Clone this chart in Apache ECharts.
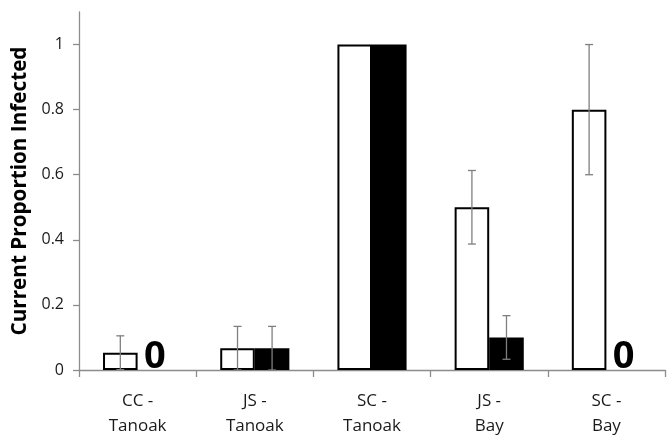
<!DOCTYPE html>
<html>
<head>
<meta charset="utf-8">
<script src="https://cdn.jsdelivr.net/npm/echarts@6/dist/echarts.min.js"></script>
<style>
  html, body { margin: 0; padding: 0; background: #fff; }
  #chart { width: 670px; height: 439px; }
</style>
</head>
<body>
<div id="chart"></div>
<script>
// Sites / hosts along the x axis
const categories = ['CC -\nTanoak', 'JS -\nTanoak', 'SC -\nTanoak', 'JS -\nBay', 'SC -\nBay'];
// Open (white) bars and their error
const openValues = [0.053, 0.067, 1, 0.5, 0.8];
const openErrors = [0.052, 0.067, 0, 0.113, 0.2];
// Filled (black) bars and their error
const filledValues = [0, 0.067, 1, 0.1, 0];
const filledErrors = [0, 0.067, 0, 0.067, 0];
// Y axis tick values
const yTicks = [0, 0.2, 0.4, 0.6, 0.8, 1];

const FONT = 'Open Sans';
const CATEGORY_GAP = 0.41;

function errorBarSeries(values, errors, side) {
  return {
    type: 'custom',
    z: 10,
    silent: true,
    data: values.map((v, i) => [i, v, errors[i]]),
    renderItem: function (params, api) {
      const idx = api.value(0);
      const val = api.value(1);
      const err = api.value(2);
      if (!err) return null;
      const band = api.size([1, 0])[0];
      const bw = band * (1 - CATEGORY_GAP) / 2;
      const center = api.coord([idx, val]);
      const x = center[0] + side * bw / 2;
      const yHi = api.coord([idx, val + err])[1];
      const yLo = api.coord([idx, Math.max(val - err, 0)])[1];
      const cap = 4;
      const style = { stroke: '#7f7f7f', lineWidth: 1.3 };
      return {
        type: 'group',
        children: [
          { type: 'line', shape: { x1: x, y1: yHi, x2: x, y2: yLo }, style: style },
          { type: 'line', shape: { x1: x - cap, y1: yHi, x2: x + cap, y2: yHi }, style: style },
          { type: 'line', shape: { x1: x - cap, y1: yLo, x2: x + cap, y2: yLo }, style: style }
        ]
      };
    }
  };
}

const chart = echarts.init(document.getElementById('chart'));
chart.setOption({
  animation: false,
  grid: { left: 79, right: 5, top: 12, bottom: 68 },
  xAxis: {
    type: 'category',
    data: categories,
    axisLine: { lineStyle: { color: '#8c8c8c', width: 1.3 } },
    axisTick: { show: true, length: 7, lineStyle: { color: '#8c8c8c', width: 1.3 } },
    axisLabel: {
      color: '#1a1a1a',
      fontFamily: FONT,
      fontSize: 17,
      lineHeight: 25,
      margin: 19
    }
  },
  yAxis: {
    type: 'value',
    min: 0,
    max: 1.1,
    interval: 0.2,
    name: 'Current Proportion Infected',
    nameLocation: 'middle',
    nameGap: 48,
    nameTextStyle: { fontFamily: FONT, fontSize: 20.7, fontWeight: 'bold', color: '#000' },
    axisLine: { show: true, lineStyle: { color: '#8c8c8c', width: 1.3 } },
    axisTick: { show: true, length: 6, customValues: yTicks, lineStyle: { color: '#8c8c8c', width: 1.3 } },
    axisLabel: {
      customValues: yTicks,
      color: '#1a1a1a',
      fontFamily: FONT,
      fontSize: 16,
      margin: 15,
      formatter: v => String(Math.round(v * 10) / 10)
    },
    splitLine: { show: false }
  },
  series: [
    {
      name: 'Series 1',
      type: 'bar',
      data: openValues,
      barGap: '0%',
      barCategoryGap: (CATEGORY_GAP * 100) + '%',
      itemStyle: { color: '#fff', borderColor: '#000', borderWidth: 2 }
    },
    {
      name: 'Series 2',
      type: 'bar',
      data: filledValues,
      itemStyle: { color: '#000', borderWidth: 0 },
      label: {
        show: true,
        position: 'top',
        distance: -6,
        fontFamily: FONT,
        fontSize: 38,
        fontWeight: 'bold',
        color: '#000',
        formatter: p => (p.value === 0 ? '0' : '')
      }
    },
    errorBarSeries(openValues, openErrors, -1),
    errorBarSeries(filledValues, filledErrors, 1)
  ]
});
</script>
</body>
</html>
